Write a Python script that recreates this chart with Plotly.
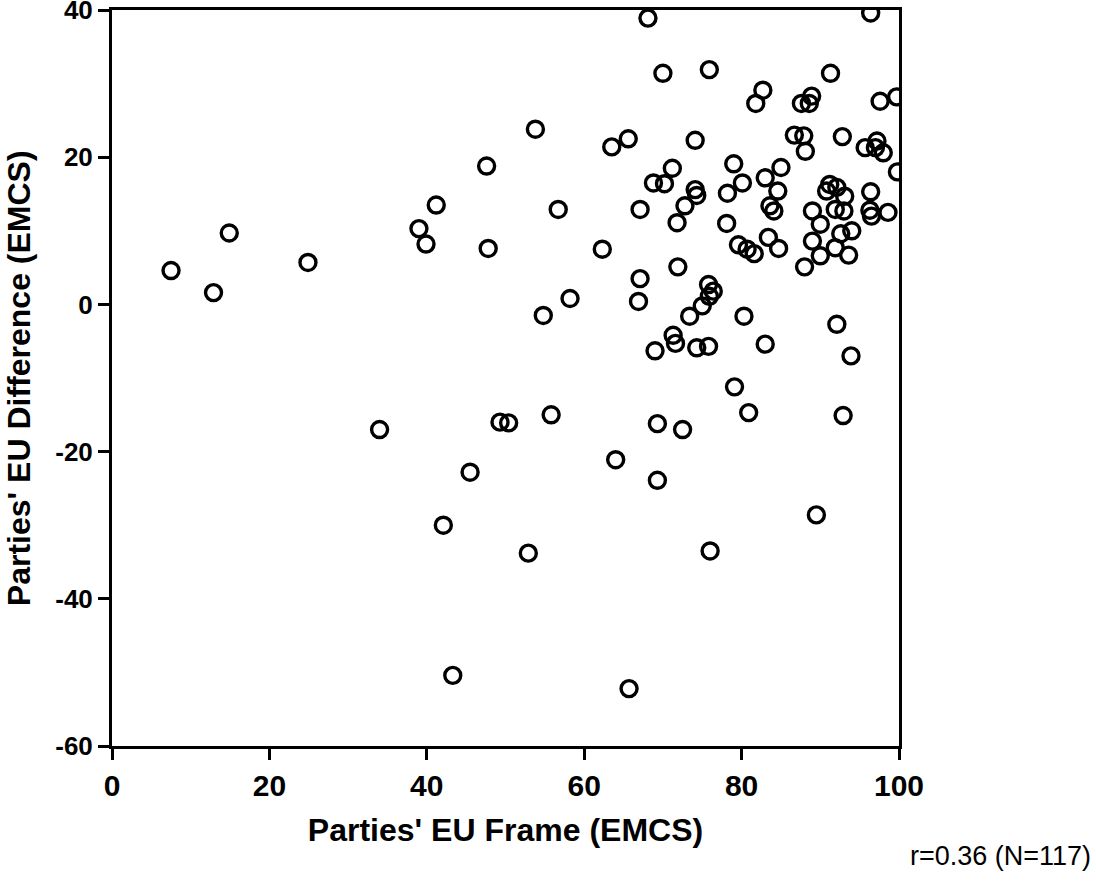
import plotly.graph_objects as go

# Parties' EU Frame (EMCS)  -> x
eu_frame = [
    68.1, 96.4, 70.0, 75.9, 91.3, 82.7, 81.8, 87.6, 88.9, 88.6,
    97.6, 99.7, 63.5, 65.6, 74.1, 86.7, 87.9, 88.1, 92.8, 95.7,
    97.2, 97.0, 98.0, 99.8, 79.0, 85.0, 71.2, 68.8, 70.2, 74.1,
    74.3, 78.2, 80.1, 83.0, 84.6, 91.2, 92.1, 90.8, 93.1, 96.4,
    83.6, 84.1, 67.1, 72.8, 71.8, 78.1, 89.0, 90.0, 91.9, 93.0,
    96.3, 96.5, 98.6, 94.0, 92.6, 89.0, 91.9, 93.6, 90.0, 88.0,
    83.4, 84.7, 79.6, 80.7, 81.6, 62.3, 71.9, 67.1, 66.9, 75.8,
    76.4, 75.9, 75.0, 73.4, 80.3, 92.1, 71.3, 71.6, 69.0, 74.3,
    75.8, 83.0, 93.9, 79.1, 47.6, 41.2, 39.0, 39.9, 47.8, 56.7,
    58.2, 54.8, 24.9, 34.0, 49.3, 50.4, 55.8, 45.5, 42.1, 52.9,
    69.3, 72.5, 64.0, 69.3, 76.0, 80.9, 43.3, 65.7, 7.5, 12.9,
    14.9, 53.8, 92.9, 89.5,
]

# Parties' EU Difference (EMCS) -> y
eu_difference = [
    38.9, 39.6, 31.4, 31.9, 31.4, 29.1, 27.3, 27.3, 28.3, 27.3,
    27.6, 28.2, 21.4, 22.5, 22.3, 23.0, 22.9, 20.8, 22.8, 21.3,
    22.2, 21.3, 20.6, 18.0, 19.1, 18.6, 18.5, 16.5, 16.4, 15.6,
    14.8, 15.1, 16.5, 17.2, 15.4, 16.3, 15.9, 15.4, 14.7, 15.3,
    13.4, 12.7, 12.9, 13.4, 11.1, 11.0, 12.7, 10.9, 12.9, 12.7,
    12.8, 12.0, 12.5, 10.0, 9.6, 8.6, 7.7, 6.7, 6.6, 5.1,
    9.1, 7.6, 8.1, 7.5, 6.9, 7.5, 5.1, 3.5, 0.4, 2.7,
    1.8, 1.1, -0.2, -1.6, -1.6, -2.7, -4.2, -5.3, -6.3, -5.9,
    -5.7, -5.4, -7.0, -11.2, 18.8, 13.5, 10.3, 8.2, 7.6, 12.9,
    0.8, -1.5, 5.7, -17.0, -16.0, -16.1, -15.0, -22.8, -30.0, -33.8,
    -16.2, -17.0, -21.1, -23.9, -33.5, -14.7, -50.4, -52.2, 4.6, 1.6,
    9.7, 23.8, -15.1, -28.6,
]

x_ticks = [0, 20, 40, 60, 80, 100]
y_ticks = [-60, -40, -20, 0, 20, 40]

x_title = "Parties' EU Frame (EMCS)"
y_title = "Parties' EU Difference (EMCS)"
note_text = "r=0.36 (N=117)"

bold_font = "Liberation Sans, Arial, Helvetica, sans-serif"
narrow_font = "Liberation Sans Narrow, Arial Narrow, Liberation Sans, sans-serif"

fig = go.Figure()
fig.add_trace(go.Scatter(
    x=eu_frame,
    y=eu_difference,
    mode="markers",
    marker=dict(symbol="circle-open", size=16, color="black",
                line=dict(color="black", width=3.4)),
    showlegend=False,
    hoverinfo="x+y",
))

axis_common = dict(
    showgrid=False,
    zeroline=False,
    showline=True,
    linecolor="black",
    linewidth=3,
    mirror=True,
    ticks="outside",
    ticklen=11,
    tickwidth=3,
    tickcolor="black",
    ticklabeloverflow="allow",
)

fig.update_xaxes(
    range=[0, 100],
    tickvals=x_ticks,
    ticktext=[str(v) for v in x_ticks],
    tickfont=dict(family=bold_font, size=30, color="black", weight="bold"),
    title=dict(text=x_title, font=dict(family=bold_font, size=32, color="black", weight="bold"),
               standoff=18),
    **axis_common,
)
fig.update_yaxes(
    range=[-60, 40],
    tickvals=y_ticks,
    ticktext=[str(v) for v in y_ticks],
    tickfont=dict(family=bold_font, size=26, color="black", weight="bold"),
    **axis_common,
)

# y-axis title placed just inside the left edge, as in the reference
fig.add_annotation(
    text=y_title,
    xref="paper", yref="paper",
    x=-0.118, y=0.5,
    xanchor="center", yanchor="middle",
    textangle=-90,
    showarrow=False,
    font=dict(family=bold_font, size=32, color="black", weight="bold"),
)

fig.add_annotation(
    text=note_text,
    xref="paper", yref="paper",
    x=1.2465, y=-0.1496,
    xanchor="right", yanchor="middle",
    showarrow=False,
    font=dict(family=narrow_font, size=27, color="black"),
)

fig.update_layout(
    width=1096,
    height=882,
    margin=dict(l=112, r=197, t=10, b=136, autoexpand=False),
    plot_bgcolor="white",
    paper_bgcolor="white",
)

fig.write_html("out.html", config={"displayModeBar": False},
               post_script="document.body.style.margin='0';")
